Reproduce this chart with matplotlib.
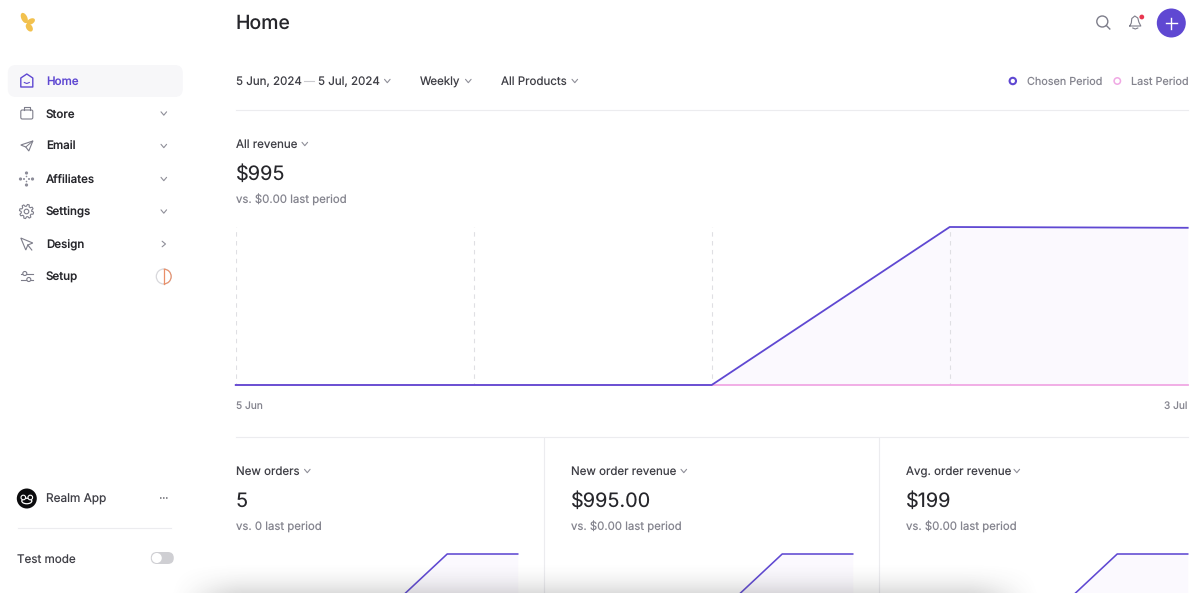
import numpy as np
import matplotlib
matplotlib.use("Agg")
import matplotlib.pyplot as plt
from matplotlib.patches import Circle, FancyBboxPatch, Wedge, Ellipse, Polygon

plt.rcParams['font.family'] = ['Inter', 'DejaVu Sans']
plt.rcParams['text.hinting'] = 'no_hinting'
plt.rcParams['text.hinting_factor'] = 1

W, H = 1200, 593
PURPLE = '#5f48d2'
PINK = '#f0a8e4'
FILL = '#fbf9fe'
DARK = '#26262b'
TEXT2 = '#3f3f46'
GRAY = '#85858f'
ICON = '#7d7d8a'
LINE = '#ececef'

# data
weeks = ['5 Jun', '12 Jun', '19 Jun', '26 Jun', '3 Jul']
revenue_chosen = [0, 0, 0, 995, 990]
revenue_last = [0, 0, 0, 0, 0]
panel_titles = ['New orders', 'New order revenue', 'Avg. order revenue']
panel_values = ['5', '$995.00', '$199']
panel_compare = ['vs. 0 last period', 'vs. $0.00 last period', 'vs. $0.00 last period']
orders_series = [0, 0, 0, 5, 5]
order_revenue_series = [0, 0, 0, 995, 995]
avg_revenue_series = [0, 0, 0, 199, 199]
panel_series = [orders_series, order_revenue_series, avg_revenue_series]
nav_items = ['Home', 'Store', 'Email', 'Affiliates', 'Settings', 'Design', 'Setup']
filters = ['5 Jun, 2024', '5 Jul, 2024', 'Weekly', 'All Products']

fig = plt.figure(figsize=(W / 100, H / 100), dpi=100, facecolor='white')


def px_axes(x0, y0, x1, y1, z=1):
    a = fig.add_axes([x0 / W, 1 - y1 / H, (x1 - x0) / W, (y1 - y0) / H], zorder=z)
    a.patch.set_alpha(0)
    return a


ui = px_axes(0, 0, W, H, z=0)
ui.set_xlim(0.2, W + 0.2)
ui.set_ylim(H, 0)
ui.axis('off')


def T(x, y, s, size=8.1, color=TEXT2, ha='left', weight='normal', z=5):
    ui.text(x, y, s, fontsize=size, color=color, ha=ha, va='center_baseline', fontweight=weight, zorder=z)


def chevron(x, y, color='#8f8f99', s=2.8, right=False):
    if right:
        ui.plot([x - s * .6, x + s * .6, x - s * .6], [y - s, y, y + s], color=color, lw=.8, solid_capstyle='round')
    else:
        ui.plot([x - s, x, x + s], [y - s * .6, y + s * .6, y - s * .6], color=color, lw=.8, solid_capstyle='round')


# logo
for (cx, cy, w, h, ang) in [(24.5, 18, 6, 11, -25), (31, 21.5, 5.5, 9, 60), (29.5, 27.5, 6, 9, -35)]:
    ui.add_patch(Ellipse((cx, cy), w, h, angle=ang, color='#f2c14e', lw=0))

# navigation
ui.add_patch(FancyBboxPatch((14, 71), 163, 20, boxstyle='round,pad=6,rounding_size=8', lw=0, color='#f7f7f9'))
nav_y = [81, 113.5, 146, 179, 211.5, 244, 276.5]
for i, (name, y) in enumerate(zip(nav_items, nav_y)):
    T(46, y, name, 8.3, PURPLE if i == 0 else DARK, weight='medium')
    if 1 <= i <= 4:
        chevron(164, y)
chevron(164, 244, right=True)

# nav icons
ui.add_patch(Polygon([(21, 78), (27, 74), (33, 78), (33, 87), (21, 87)], closed=True, fill=False, ec=PURPLE, lw=1, joinstyle='round'))
ui.plot([24.5, 27, 29.5], [82.5, 83.5, 82.5], color=PURPLE, lw=.8)
ui.add_patch(FancyBboxPatch((21, 110), 12, 9, boxstyle='round,pad=0,rounding_size=1.5', fill=False, ec=ICON, lw=.8))
ui.plot([24, 24, 30, 30], [110, 107, 107, 110], color=ICON, lw=.8)
ui.add_patch(Polygon([(21, 145), (33, 141), (29, 151), (26, 147)], closed=True, fill=False, ec=ICON, lw=.8))
ui.plot([26, 33], [147, 141], color=ICON, lw=.7)
for dx, dy, r in [(0, -6, 1.6), (0, 6, 1.6), (-6, 0, 1.6), (6, 0, 1.6), (-2.5, 0, 1), (2.5, 0, 1), (0, -2.5, .8), (0, 2.5, .8)]:
    ui.add_patch(Circle((26.7 + dx, 179 + dy), r, color='#8d8d99', lw=0))
th = np.linspace(0, 2 * np.pi, 49)
rr = 6.2 + 0.9 * np.sign(np.sin(8 * th))
ui.plot(26.7 + rr * np.cos(th), 211.5 + rr * np.sin(th), color=ICON, lw=.8)
ui.add_patch(Circle((26.7, 211.5), 2.3, fill=False, ec=ICON, lw=.8))
ui.add_patch(Polygon([(21, 238), (33, 243), (28, 245), (26, 250)], closed=True, fill=False, ec=ICON, lw=.8))
ui.plot([28, 32], [245, 250], color=ICON, lw=.8)
ui.plot([21, 33], [273.5, 273.5], color=ICON, lw=.8)
ui.plot([21, 33], [279.5, 279.5], color=ICON, lw=.8)
ui.add_patch(Circle((25, 273.5), 2, fc='white', ec=ICON, lw=.8, zorder=4))
ui.add_patch(Circle((29, 279.5), 2, fc='white', ec=ICON, lw=.8, zorder=4))
# progress ring
ui.add_patch(Circle((164, 276.5), 7.5, fill=False, ec='#d8d8dc', lw=.9))
ui.add_patch(Wedge((164, 276.5), 7.9, -90, 90, width=1.1, color='#ea8f68', lw=0))
ui.plot([164, 164], [269, 284], color='#ea8f68', lw=.9)

# sidebar footer
ui.add_patch(Circle((27, 498.5), 10, color='#0c0c0e', lw=0))
ui.add_patch(Ellipse((27, 501), 10, 5.5, fc='none', ec='white', lw=.9))
ui.add_patch(Circle((23.5, 497.5), 2.3, fc='#0c0c0e', ec='white', lw=.8))
ui.add_patch(Circle((30.5, 497.5), 2.3, fc='#0c0c0e', ec='white', lw=.8))
T(46, 498.5, 'Realm App', 8.5)
for dx in (-3, 0, 3):
    ui.add_patch(Circle((164 + dx, 498), .8, color='#55555c', lw=0))
ui.plot([18, 171], [528, 528], color=LINE, lw=.8)
T(17, 558, 'Test mode', 8.4)
ui.add_patch(FancyBboxPatch((151, 552), 23, 12, boxstyle='round,pad=0,rounding_size=6', lw=0, color='#cfcfd3'))
ui.add_patch(Circle((157, 558), 5, color='white', lw=0, zorder=4))

# header
T(236, 22, 'Home', 14.0, DARK, weight='medium')
ui.add_patch(Circle((1102.5, 21.5), 5.5, fill=False, ec=ICON, lw=1))
ui.plot([1106.5, 1110], [25.5, 29], color=ICON, lw=1)
ui.plot([1130, 1131.5, 1132, 1135, 1138, 1139, 1141, 1130],
        [26, 23, 18.5, 16, 18, 22, 26, 26], color=ICON, lw=.8)
ui.plot([1133, 1135.5, 1138], [28, 29, 28], color=ICON, lw=.8)
ui.add_patch(Circle((1142, 17), 2.4, color='#e8364f', lw=0, zorder=4))
ui.add_patch(Circle((1171.5, 23), 14.5, color=PURPLE, lw=0))
ui.plot([1166, 1177], [23, 23], color='white', lw=1)
ui.plot([1171.5, 1171.5], [17.5, 28.5], color='white', lw=1)

# filters
T(236, 81, filters[0], 8.3)
ui.plot([304, 314], [81, 81], color='#c9c9ce', lw=.8)
T(318, 81, filters[1], 8.3)
chevron(387.5, 81)
T(420, 81, filters[2], 8.3)
chevron(468.5, 81)
T(501.5, 81, filters[3], 8.3)
chevron(575, 81)

# legend
ui.add_patch(Circle((1013, 81), 3.2, fill=False, ec=PURPLE, lw=1.5))
T(1027, 81, 'Chosen Period', 7.8, GRAY)
ui.add_patch(Circle((1117.5, 81), 3.2, fill=False, ec=PINK, lw=1.1))
T(1131, 81, 'Last Period', 7.8, GRAY)
ui.plot([236, 1188], [110, 110], color=LINE, lw=.8)

# main metric
T(236, 144, 'All revenue', 8.3)
chevron(305, 144)
T(236, 173, '$995', 14.3, DARK)
T(236, 199, 'vs. $0.00 last period', 8.2, GRAY)

# main chart
xs = np.arange(len(weeks))
ax = px_axes(235.7, 227, 1187.7, 385, z=2)
ax.set_xlim(0, 4)
ax.set_ylim(0, 995)
ax.fill_between(xs, revenue_chosen, revenue_last, color=FILL, lw=0, zorder=1)
ax.vlines(xs[:-1], 0, 995, color='#dfdfe3', lw=.8, linestyles=(2, (4, 4)), zorder=2)
ax.plot(xs, revenue_last, color=PINK, lw=1.3, zorder=3, clip_on=False)
ax.plot(xs, revenue_chosen, color=PURPLE, lw=1.3, zorder=4, clip_on=False)
for s in ax.spines.values():
    s.set_visible(False)
ax.set_yticks([])
ax.set_xticks([0, 4])
ax.set_xticklabels([weeks[0], weeks[-1]], fontsize=7.3, color=GRAY)
ax.tick_params(axis='x', length=0, pad=11.5)
ax.get_xticklabels()[0].set_ha('left')
ax.get_xticklabels()[1].set_ha('right')

# dividers
ui.plot([236, 1188], [437, 437], color=LINE, lw=.8)
ui.plot([544.5, 544.5], [438, H], color=LINE, lw=.8)
ui.plot([879.5, 879.5], [438, H], color=LINE, lw=.8)

# lower panels
panel_x = [236, 571, 906]
chev_x = [307.5, 684, 1017]
for px, cx, title, val, cmp_, series in zip(panel_x, chev_x, panel_titles, panel_values, panel_compare, panel_series):
    T(px, 471, title, 8.3)
    chevron(cx, 471)
    T(px, 500, val, 14.3, DARK)
    T(px, 526, cmp_, 8.2, GRAY)
    a = px_axes(px - .3, 554, px + 281.7, 620, z=2)
    a.set_xlim(0, 4)
    a.set_ylim(0, max(series))
    a.fill_between(xs, series, 0, color=FILL, lw=0)
    a.plot(xs, series, color=PURPLE, lw=1.15, clip_on=False)
    a.axis('off')

# bottom shadow of the floating bar
sh = px_axes(165, 560, 1045, H, z=6)
gy = np.linspace(0, 1, 33)[:, None]
gx = np.linspace(0, 1, 220)[None, :]
edge = np.clip(np.minimum(gx, 1 - gx) / 0.09, 0, 1)
edge = edge * edge * (3 - 2 * edge)
rgba = np.zeros((33, 220, 4))
rgba[..., :3] = 0.3
rgba[..., 3] = (gy ** 2) * 0.19 * edge
sh.imshow(rgba, aspect='auto', extent=(0, 1, 0, 1), interpolation='bilinear')
sh.axis('off')

fig.savefig('out.png', dpi=100, facecolor='white')
